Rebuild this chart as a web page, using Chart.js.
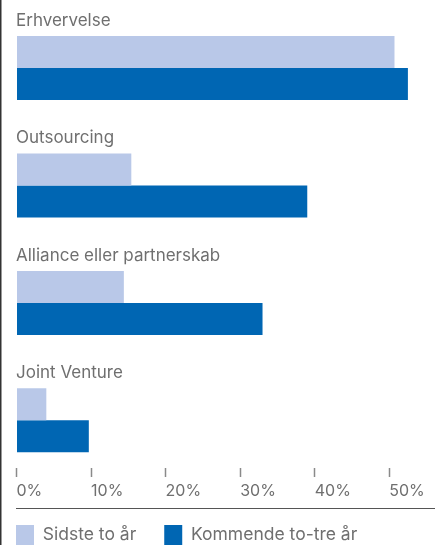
<!DOCTYPE html>
<html>
<head>
<meta charset="utf-8">
<script src="https://cdn.jsdelivr.net/npm/chart.js@4/dist/chart.umd.min.js"></script>
<style>
    html, body { margin: 0; padding: 0; background: #fff; overflow: hidden; }
    body { width: 442px; height: 545px; position: relative; }
    #chart { position: absolute; left: -12px; top: 0; }
</style>
</head>
<body>
<canvas id="chart" width="454" height="555"></canvas>
<script>
const categories = ['Erhvervelse', 'Outsourcing', 'Alliance eller partnerskab', 'Joint Venture'];
const seriesNames = ['Sidste to år', 'Kommende to-tre år'];
const lastTwoYears = [50.7, 15.4, 14.4, 4.0];
const nextYears = [52.5, 39.0, 33.0, 9.7];
const xTicks = [0, 10, 20, 30, 40, 50];

const LIGHT = '#b9c8e8';
const DARK = '#0066b3';
const TEXT = '#6f6f6f';
const FONT = 'Inter, Roboto, sans-serif';

// numeric index axis, so each pair of bars can leave room for its label row
const toPoints = vals => vals.map((v, i) => ({ x: v, y: i }));

const extras = {
    id: 'extras',
    afterDatasetsDraw(chart) {
        const { ctx, chartArea, scales } = chart;
        ctx.save();
        ctx.fillStyle = TEXT;
        ctx.font = '17px ' + FONT;
        ctx.textAlign = 'left';
        ctx.textBaseline = 'alphabetic';
        categories.forEach((c, i) => {
            const y = scales.y.getPixelForValue(i);
            ctx.fillText(c, chartArea.left - 0.5, y - 42);
        });
        ctx.restore();
    },
    afterDraw(chart) {
        const { ctx, chartArea, scales } = chart;
        ctx.save();
        // rule under the tick labels
        ctx.strokeStyle = '#555';
        ctx.lineWidth = 1;
        const ly = Math.round(scales.x.bottom + 11) + 0.5;
        ctx.beginPath();
        ctx.moveTo(chartArea.left - 0.5, ly);
        ctx.lineTo(chartArea.right + 1, ly);
        ctx.stroke();
        // left edge rule
        ctx.strokeStyle = '#333';
        ctx.lineWidth = 1.5;
        ctx.beginPath();
        ctx.moveTo(12.75, 0);
        ctx.lineTo(12.75, chart.height);
        ctx.stroke();
        ctx.restore();
    }
};

new Chart(document.getElementById('chart'), {
    type: 'bar',
    data: {
        datasets: [
            { label: seriesNames[0], data: toPoints(lastTwoYears), backgroundColor: LIGHT },
            { label: seriesNames[1], data: toPoints(nextYears), backgroundColor: DARK },
        ]
    },
    options: {
        responsive: false,
        animation: false,
        indexAxis: 'y',
        categoryPercentage: 0.545,
        barPercentage: 1,
        layout: { padding: { left: 0, right: 8, top: 0, bottom: 0 } },
        plugins: {
            tooltip: { enabled: false },
            legend: {
                position: 'bottom',
                align: 'start',
                labels: {
                    boxWidth: 18,
                    boxHeight: 20,
                    padding: 28,
                    color: TEXT,
                    font: { family: FONT, size: 17.5 },
                }
            }
        },
        scales: {
            x: {
                type: 'linear',
                position: 'bottom',
                min: 0,
                max: 56,
                afterBuildTicks: s => { s.ticks = xTicks.map(v => ({ value: v })); },
                afterFit: s => { s.height = 29; },
                border: { display: false },
                grid: { drawOnChartArea: false, drawTicks: true, tickLength: 9, color: '#8a8a8a', tickWidth: 1.5 },
                ticks: {
                    align: 'start',
                    padding: 5,
                    color: TEXT,
                    font: { family: FONT, size: 16 },
                    callback: v => v + '%',
                }
            },
            y: {
                type: 'linear',
                reverse: true,
                offset: false,
                min: -0.579,
                max: 3.406,
                afterBuildTicks: s => { s.ticks = categories.map((c, i) => ({ value: i })); },
                afterFit: s => { s.width = 28.5; },
                border: { display: false },
                grid: { display: false },
                ticks: { display: false },
            }
        }
    },
    plugins: [extras]
});
</script>
</body>
</html>
